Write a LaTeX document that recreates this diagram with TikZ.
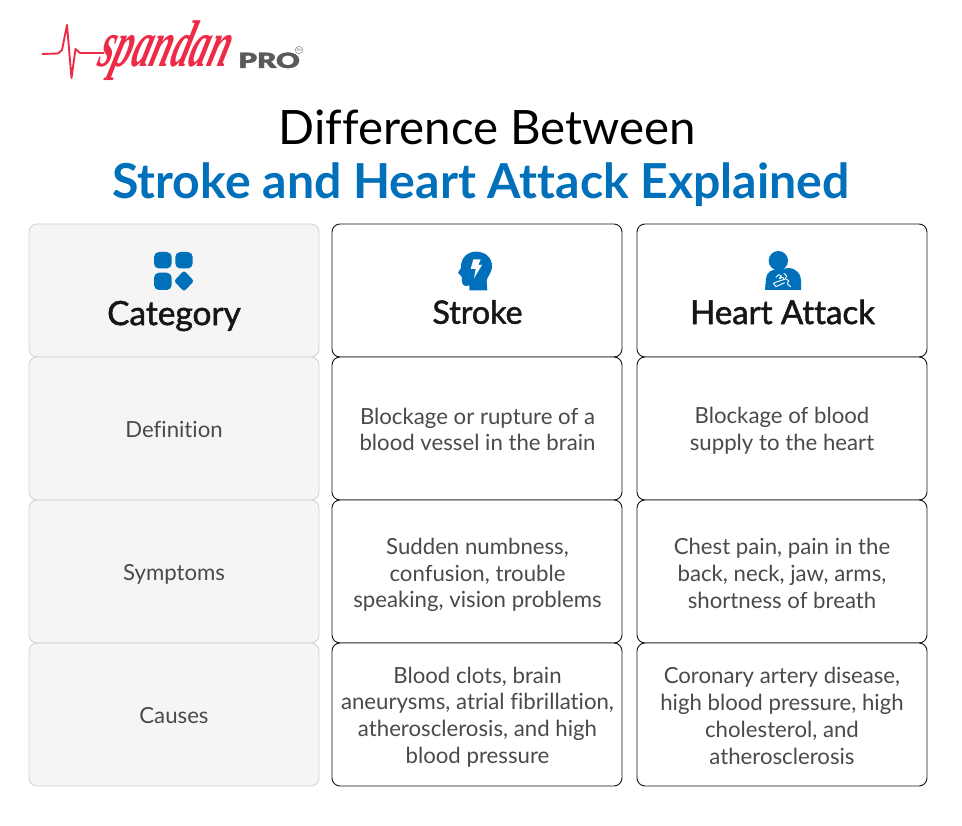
\documentclass[tikz,border=0pt]{standalone}
\usepackage{fontspec}
\setmainfont[Ligatures=NoCommon]{Lato}
\newfontfamily\medfont[Ligatures=NoCommon,FakeBold=1.6]{Lato}
\newfontfamily\profont[FakeBold=1.5]{Lato Black}
\newfontfamily\logofont{Liberation Serif}
\definecolor{brandblue}{HTML}{0070BB}
\definecolor{bodygray}{HTML}{4A4A4A}
\definecolor{inkdark}{HTML}{161616}
\definecolor{logored}{HTML}{EE2B47}
\definecolor{logogray}{HTML}{5A5A5A}
\definecolor{catfill}{HTML}{F5F5F5}
\definecolor{catline}{HTML}{D2D2D2}
\tikzset{
  catbox/.style={draw=catline,fill=catfill,line width=.8pt,rounded corners=8pt,minimum width=290pt,inner sep=0pt},
  cellbox/.style={draw=inkdark,fill=white,line width=.9pt,rounded corners=8pt,minimum width=290pt,inner sep=0pt},
  bodytext/.style={font=\fontsize{22.2}{26.8}\selectfont,text=bodygray,align=center,inner sep=0pt},
  headtext/.style={font=\medfont\fontsize{32.2}{36}\selectfont,text=inkdark,align=center,inner sep=0pt},
  icon/.style={fill=brandblue,draw=none},
}
\begin{document}
\begin{tikzpicture}[x=1pt,y=-1pt]
\useasboundingbox[fill=white] (0,0) rectangle (962,826);
% logo
\draw[logored,line width=1.9pt,line join=round] (42,54) -- (58,53.5) -- (62,50) -- (67,25) -- (71.5,78) -- (75.5,49) -- (80,53) -- (104,53);
\node[anchor=base west,inner sep=0pt,text=logored,xslant=.3,xscale=.84,yscale=1.5] (logoname) at (96,67) {\logofont\bfseries\itshape\fontsize{44}{44}\selectfont spandan};
\node[anchor=base west,inner sep=0pt,text=logogray,xscale=1.4] (logopro) at (238,68) {\profont\fontsize{21}{20}\selectfont PRO};
\node[circle,draw=logogray,line width=.3pt,inner sep=.6pt,text=logogray] (logotm) at (299,50) {\fontsize{3.5}{4}\selectfont TM};
% title
\node[inner sep=0pt,font=\fontsize{47.4}{50}\selectfont,text=black] (title1) at (487.5,127) {Difference Between};
\node[inner sep=0pt,font=\fontsize{48.2}{50}\selectfont\bfseries,text=brandblue] (title2) at (481,185) {Stroke and Heart Attack Explained};
% boxes
\node[catbox,minimum height=133pt] (c0) at (174,290.5) {};
\node[catbox,minimum height=143pt] (c1) at (174,428.5) {};
\node[catbox,minimum height=143pt] (c2) at (174,571.5) {};
\node[catbox,minimum height=143pt] (c3) at (174,714.5) {};
\node[cellbox,minimum height=133pt] (s0) at (477,290.5) {};
\node[cellbox,minimum height=143pt] (s1) at (477,428.5) {};
\node[cellbox,minimum height=143pt] (s2) at (477,571.5) {};
\node[cellbox,minimum height=143pt] (s3) at (477,714.5) {};
\node[cellbox,minimum height=133pt] (h0) at (782,290.5) {};
\node[cellbox,minimum height=143pt] (h1) at (782,428.5) {};
\node[cellbox,minimum height=143pt] (h2) at (782,571.5) {};
\node[cellbox,minimum height=143pt] (h3) at (782,714.5) {};
% header text
\node[headtext,font=\medfont\fontsize{33.4}{36}\selectfont] (tc) at (174,316) {Category};
\node[headtext] (ts) at (477.5,312) {Stroke};
\node[headtext,font=\medfont\fontsize{33}{36}\selectfont] (th) at (782.5,312) {Heart Attack};
% category icon
\fill[icon,rounded corners=5pt] (154,252) rectangle (171.7,268.5);
\fill[icon,rounded corners=5pt] (175.3,252) rectangle (192.7,268.5);
\fill[icon,rounded corners=5pt] (154,272.7) rectangle (171.7,290);
\fill[icon,rounded corners=2.5pt] (184,270.5) -- (194,281) -- (184,291.5) -- (174,281) -- cycle;
% stroke icon
\begin{scope}[shift={(430,240)},x=.3333pt,y=-.3333pt]
\fill[icon] (118,151) -- (118,136) .. controls (108,140) and (98,138) .. (96,126) -- (95,110) -- (84,98) -- (93,84)
  .. controls (92,50) and (115,35) .. (138,35) .. controls (168,35) and (186,55) .. (186,78)
  .. controls (186,100) and (172,108) .. (170,122) -- (172,151) -- cycle;
\fill[white] (130,58) -- (152,58) -- (145,75) -- (156,75) -- (132,115) -- (137,87) -- (122,87) -- cycle;
\end{scope}
% heart attack icon
\begin{scope}[shift={(740,240)},x=.3333pt,y=-.3333pt]
\fill[icon] (115,62) circle[x radius=29,y radius=29];
\fill[icon] (75,150) -- (78,115) .. controls (80,97) and (95,88) .. (112,88) -- (148,84) .. controls (170,88) and (182,100) .. (183,120) -- (183,150) -- cycle;
\draw[white,line width=.9pt,line cap=round,line join=round] (108,112) -- (116,104) -- (124,108) -- (118,116) -- (128,112) -- (134,118) -- (112,125) -- (100,130) -- (108,140) -- (134,128);
\draw[white,line width=.9pt,line cap=round,line join=round] (132,100) -- (140,108) -- (136,116) -- (146,122) -- (142,132) -- (152,140);
\end{scope}
% category labels
\node[bodytext] (ldef) at (174,429.5) {Definition};
\node[bodytext] (lsym) at (174,574.5) {Symptoms};
\node[bodytext] (lcau) at (174,715.5) {Causes};
% stroke column
\node[bodytext] (sdef) at (477.5,429.5) {Blockage or rupture of a\\blood vessel in the brain};
\node[bodytext] (ssym) at (477.5,575) {Sudden numbness,\\confusion, trouble\\speaking, vision problems};
\node[bodytext] (scau) at (477.5,717) {Blood clots, brain\\aneurysms, atrial fibrillation,\\atherosclerosis, and high\\blood pressure};
% heart column
\node[bodytext] (hdef) at (782,431) {Blockage of blood\\supply to the heart};
\node[bodytext] (hsym) at (782,573.5) {Chest pain, pain in the\\back, neck, jaw, arms,\\shortness of breath};
\node[bodytext] (hcau) at (782,716) {Coronary artery disease,\\high blood pressure, high\\cholesterol, and\\atherosclerosis};
\end{tikzpicture}
\end{document}
